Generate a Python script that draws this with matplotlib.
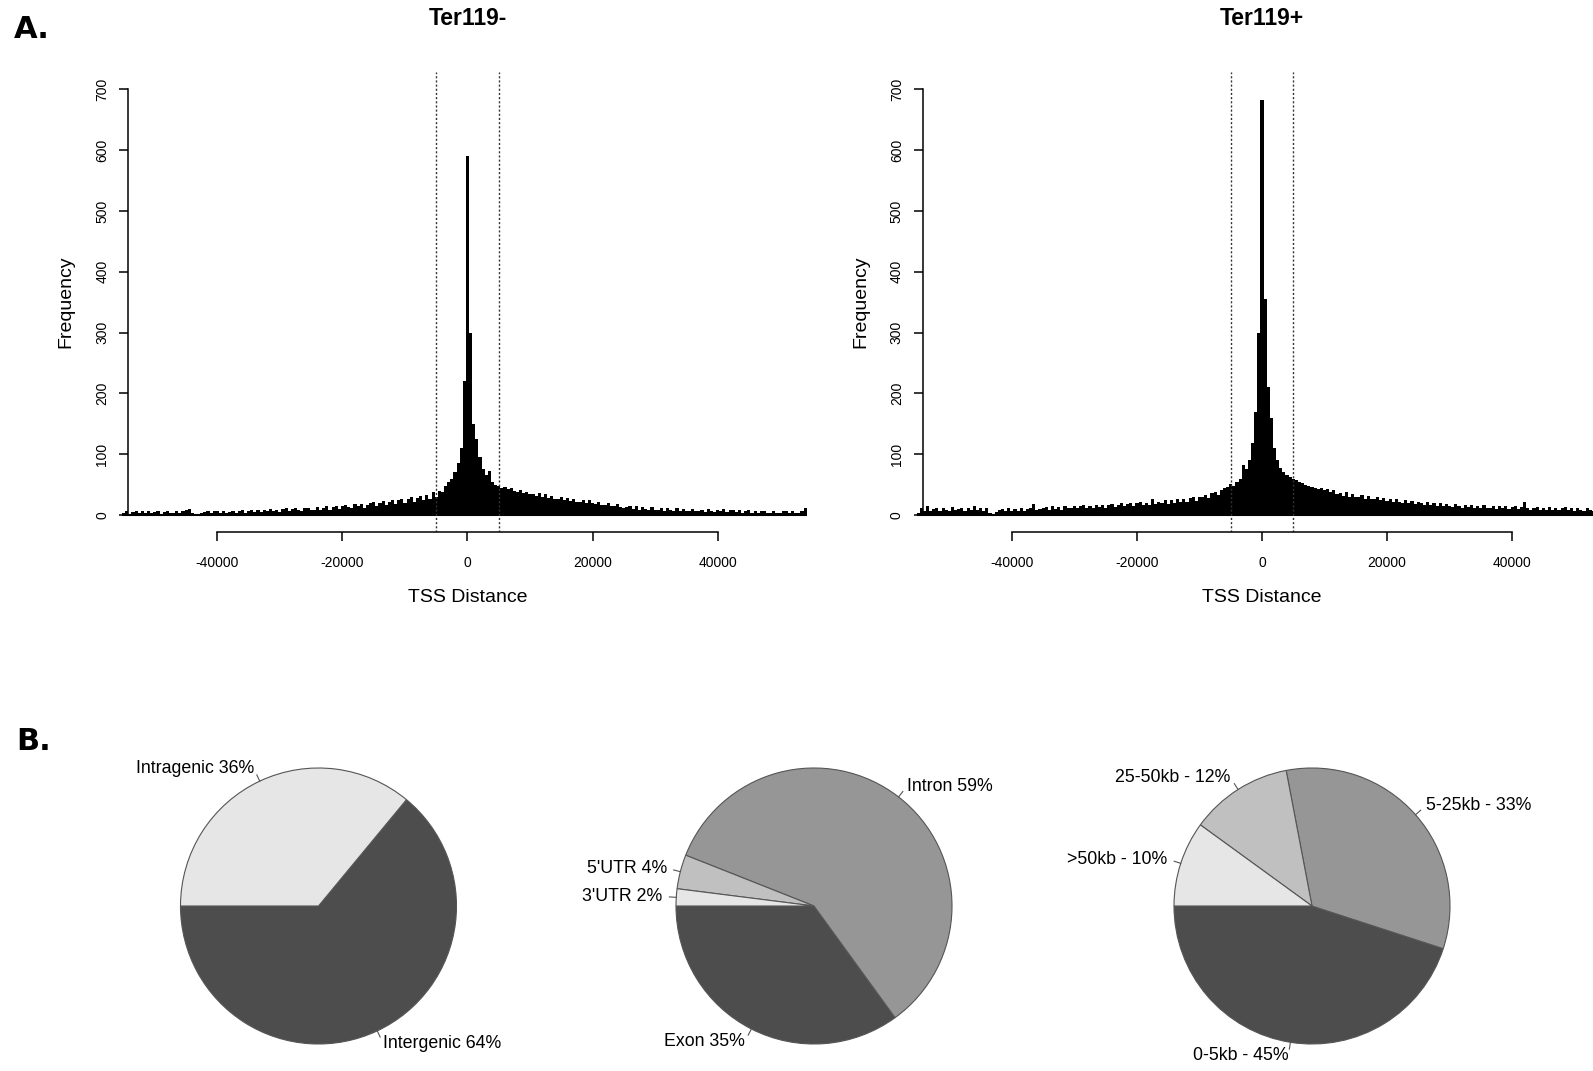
import matplotlib
matplotlib.use("Agg")
import matplotlib.pyplot as plt
import numpy as np

# Distance to TSS histograms, 500 bp bins, first bin starts at -55250
bin_start = -55250
bin_width = 500

# Ter119- counts, read bin by bin off the figure
ter119_neg_counts = (
    [3, 6, 2, 5, 7, 3, 6, 4, 7, 3, 5, 6, 2, 5, 7, 4, 3, 6, 4, 6, 8, 10, 4, 2, 2, 3, 5, 6, 3, 6, 7]
    + [4, 6, 3, 5, 7, 4, 7, 8, 4, 7, 9, 5, 8, 5, 9, 6, 10, 6, 9, 5, 10, 11, 7, 10, 11, 8, 7, 11, 12, 8]
    + [9, 13, 8, 12, 14, 9, 13, 15, 10, 14, 16, 13, 11, 18, 14, 18, 12, 17, 20, 21, 15, 20, 23, 16, 22, 25, 18, 24, 27, 20]
    + [26, 30, 22, 28, 32, 24, 33, 27, 37, 29, 40, 38, 47, 55]
    + [60, 70, 85, 110, 220, 590, 300, 150, 125, 95, 75]
    + [65, 72, 55, 50, 48, 45, 46, 42, 44, 40, 38, 41, 36, 37, 35]
    + [35, 31, 36, 29, 34, 28, 32, 27, 26, 30, 24, 28, 23, 27, 22, 21, 25, 20, 24, 19, 18, 22, 17, 16, 20, 15, 14, 18, 13, 12]
    + [13, 15, 10, 14, 9, 13, 10, 8, 13, 9, 8, 12, 7, 11, 8, 7, 11, 6, 10, 7, 6, 10, 7, 6, 9, 5, 10, 6, 5, 9]
    + [6, 10, 5, 8, 9, 5, 8, 4, 7, 8, 4, 7, 3, 6, 7, 4, 3, 7, 4, 3, 6, 7, 3, 6, 3, 4, 7, 11]
)

# Ter119+ counts
ter119_pos_counts = (
    [3, 12, 7, 15, 6, 10, 11, 7, 12, 8, 7, 13, 9, 10, 12, 7, 11, 8, 14, 8, 11, 7, 12, 3, 2, 5, 9, 10, 6, 11, 7]
    + [10, 7, 11, 6, 10, 12, 18, 9, 10, 12, 13, 9, 14, 10, 13, 9, 14, 11, 12, 15, 11, 14, 16, 11, 15, 12, 17, 13, 16, 12]
    + [16, 18, 13, 17, 19, 14, 18, 20, 15, 19, 22, 16, 20, 17, 26, 18, 22, 19, 24, 18, 25, 20, 26, 21, 27, 22, 28, 29, 23, 30]
    + [30, 33, 28, 36, 37, 33, 41, 44, 46, 51, 47, 55, 60, 82]
    + [75, 90, 118, 170, 300, 683, 355, 210, 160, 110, 90]
    + [78, 70, 65, 62, 60, 58, 55, 52, 50, 47, 46, 44, 42, 45, 41]
    + [43, 37, 41, 35, 36, 32, 38, 30, 35, 29, 30, 33, 27, 31, 26, 27, 30, 24, 28, 23, 27, 22, 26, 21, 20, 25, 19, 23, 18, 22]
    + [20, 17, 21, 16, 20, 15, 19, 14, 18, 15, 13, 18, 14, 12, 17, 13, 16, 12, 15, 11, 16, 12, 11, 15, 10, 14, 11, 15, 10, 13]
    + [14, 10, 13, 21, 11, 9, 12, 13, 9, 12, 8, 13, 9, 12, 8, 11, 13, 8, 11, 7, 12, 8, 7, 11, 8, 7, 11, 8]
)

x_ticks = [-40000, -20000, 0, 20000, 40000]
y_ticks = [0, 100, 200, 300, 400, 500, 600, 700]
cutoff = 5000

# Pie charts (R gray.colors palette)
region_labels = ["Intergenic 64%", "Intragenic 36%"]
region_values = [64, 36]
region_colors = ["#4D4D4D", "#E6E6E6"]

feature_labels = ["Exon 35%", "Intron 59%", "5'UTR 4%", "3'UTR 2%"]
feature_values = [35, 59, 4, 2]
feature_colors = ["#4D4D4D", "#969696", "#C0C0C0", "#E6E6E6"]

dist_labels = ["0-5kb - 45%", "5-25kb - 33%", "25-50kb - 12%", ">50kb - 10%"]
dist_values = [45, 33, 12, 10]
dist_colors = ["#4D4D4D", "#969696", "#C0C0C0", "#E6E6E6"]

W, H = 1593, 1071
plt.rcParams['font.family'] = ['Liberation Sans', 'DejaVu Sans']

fig = plt.figure(figsize=(W / 100, H / 100), dpi=100)


def draw_hist(left_px, counts, title):
    ax_w = 679
    top_px, bottom_px = 72.4, 532
    ax_h = bottom_px - top_px
    ax = fig.add_axes([left_px / W, (H - bottom_px) / H, ax_w / W, ax_h / H])

    edges = bin_start + bin_width * np.arange(len(counts) + 1)
    ax.stairs(counts, edges, fill=True, color='black', baseline=0, clip_on=False)
    ax.hlines(0, edges[0], edges[-1], color='black', lw=1.5, clip_on=False)
    for c in (-cutoff, cutoff):
        ax.axvline(c, color='#333333', ls=(0, (1.5, 1.5)), lw=1.0)

    ax.set_xlim(-54300, 54300)
    ax.set_ylim(-28, 728)
    for s in ('top', 'right'):
        ax.spines[s].set_visible(False)
    ax.spines['left'].set_bounds(0, 700)
    ax.spines['bottom'].set_bounds(-40000, 40000)
    ax.spines['left'].set_linewidth(1.1)
    ax.spines['bottom'].set_linewidth(1.1)

    ax.set_xticks(x_ticks)
    ax.set_xticklabels([str(t) for t in x_ticks])
    ax.set_yticks(y_ticks)
    ax.set_yticklabels([str(t) for t in y_ticks], rotation=90, va='center')
    ax.tick_params(axis='x', length=6.5, width=1.1, pad=10.5, labelsize=10)
    ax.tick_params(axis='y', length=6.5, width=1.1, pad=7, labelsize=10)

    ax.text(0, 1 + (top_px - 18.3) / ax_h, title, transform=ax.get_xaxis_transform(),
            ha='center', va='center', fontsize=16.5, fontweight='bold')
    ax.text(0, -66 / ax_h, "TSS Distance", transform=ax.get_xaxis_transform(),
            ha='center', va='center', fontsize=14)
    ax.text(-62 / ax_w, 350, "Frequency", transform=ax.get_yaxis_transform(),
            ha='center', va='center', rotation=90, fontsize=14)
    return ax


def draw_pie(cx_px, values, labels, colors):
    r_px = 138
    cy_px = 906
    ax = fig.add_axes([(cx_px - 1.5 * r_px) / W, (H - cy_px - 1.5 * r_px) / H,
                       3 * r_px / W, 3 * r_px / H])
    wedges, texts = ax.pie(values, labels=labels, colors=colors, startangle=180,
                           counterclock=True, labeldistance=1.1,
                           wedgeprops=dict(edgecolor='#555555', linewidth=0.8),
                           textprops=dict(fontsize=12.8))
    # short leader ticks like R's pie()
    for w in wedges:
        a = np.deg2rad((w.theta1 + w.theta2) / 2)
        ax.plot([np.cos(a), 1.05 * np.cos(a)], [np.sin(a), 1.05 * np.sin(a)],
                color='#555555', lw=0.8)
    ax.set_xlim(-1.5, 1.5)
    ax.set_ylim(-1.5, 1.5)
    ax.set_aspect('equal')
    ax.axis('off')
    return ax


draw_hist(128, ter119_neg_counts, "Ter119-")
draw_hist(922.5, ter119_pos_counts, "Ter119+")

draw_pie(318.5, region_values, region_labels, region_colors)
draw_pie(814, feature_values, feature_labels, feature_colors)
draw_pie(1312, dist_values, dist_labels, dist_colors)

fig.text(32 / W, 1 - 30 / H, "A.", family='DejaVu Sans', fontweight='heavy',
         fontsize=22, ha='center', va='center')
fig.text(33.5 / W, 1 - 742 / H, "B.", family='DejaVu Sans', fontweight='heavy',
         fontsize=22, ha='center', va='center')

fig.savefig("out.png", dpi=100)
